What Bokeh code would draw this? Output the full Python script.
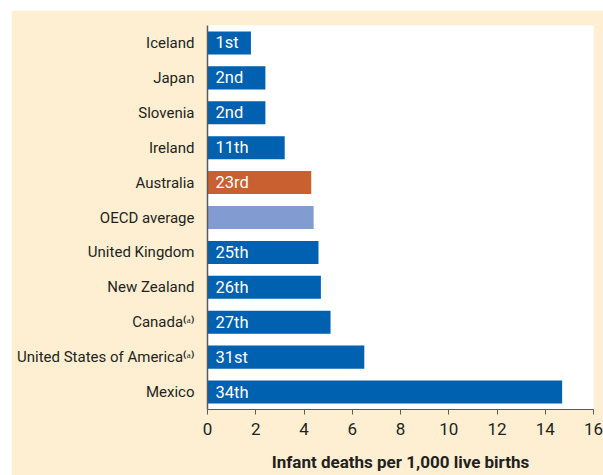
from bokeh.plotting import figure
from bokeh.layouts import column, row
from bokeh.models import ColumnDataSource, FactorRange, Range1d, FixedTicker, LabelSet, Spacer
from bokeh.core.properties import value
from bokeh.embed import file_html
from bokeh.resources import INLINE

countries = ["Iceland", "Japan", "Slovenia", "Ireland", "Australia", "OECD average",
             "United Kingdom", "New Zealand", "Canada", "United States of America", "Mexico"]
values = [1.8, 2.4, 2.4, 3.2, 4.3, 4.4, 4.6, 4.7, 5.1, 6.5, 14.7]
ranks = ["1st", "2nd", "2nd", "11th", "23rd", "", "25th", "26th", "27th", "31st", "34th"]
notes = ["", "", "", "", "", "", "", "", "⁽ᵃ⁾", "⁽ᵃ⁾", ""]
kinds = ["other", "other", "other", "other", "australia", "oecd",
         "other", "other", "other", "other", "other"]
x_ticks = [0, 2, 4, 6, 8, 10, 12, 14, 16]

palette = {"other": "#0061B0", "australia": "#C8602F", "oecd": "#829CD2"}
FONT = "Roboto"
TEXT = "#231F20"
CREAM = "#FEEFD3"

labels = [c + n for c, n in zip(countries, notes)]

src = ColumnDataSource(dict(
    label=labels,
    val=values,
    rank=ranks,
    color=[palette[k] for k in kinds],
))

p = figure(width=592, height=465, output_backend="svg", toolbar_location=None,
           y_range=FactorRange(factors=list(reversed(labels))),
           x_range=Range1d(0, 16),
           min_border_left=196, min_border_right=10, min_border_top=15, min_border_bottom=66)

p.hbar(y="label", right="val", left=0, height=0.66, color="color", line_color=None, source=src)

p.background_fill_color = "white"
p.border_fill_color = CREAM
p.outline_line_color = None
p.grid.visible = False

ax = p.xaxis[0]
ax.ticker = FixedTicker(ticks=x_ticks)
ax.minor_tick_line_color = None
ax.major_tick_out = 5
ax.major_tick_in = 0
ax.axis_line_color = "#5A5A5A"
ax.major_tick_line_color = "#5A5A5A"
ax.axis_line_width = 1.2
ax.major_label_text_font = FONT
ax.major_label_text_font_size = "17px"
ax.major_label_text_color = TEXT
ax.major_label_standoff = 8
ax.axis_label = "Infant deaths per 1,000 live births"
ax.axis_label_text_font = FONT
ax.axis_label_text_font_size = "17px"
ax.axis_label_text_font_style = "bold"
ax.axis_label_text_color = TEXT
ax.axis_label_standoff = 14

yax = p.yaxis[0]
yax.major_tick_line_color = None
yax.minor_tick_line_color = None
yax.axis_line_color = "#5A5A5A"
yax.axis_line_width = 1.5
yax.major_label_standoff = 7
yax.major_label_text_font = FONT
yax.major_label_text_font_size = "15px"
yax.major_label_text_color = TEXT

rank_labels = LabelSet(x=0, y="label", text="rank", source=src, x_offset=8,
                       text_align="left", text_baseline="middle",
                       text_font=value(FONT), text_font_size="16.5px", text_color="white")
p.add_layout(rank_labels)

layout = column(Spacer(height=10), row(Spacer(width=11), p))

open("out.html", "w").write(file_html(layout, INLINE))
